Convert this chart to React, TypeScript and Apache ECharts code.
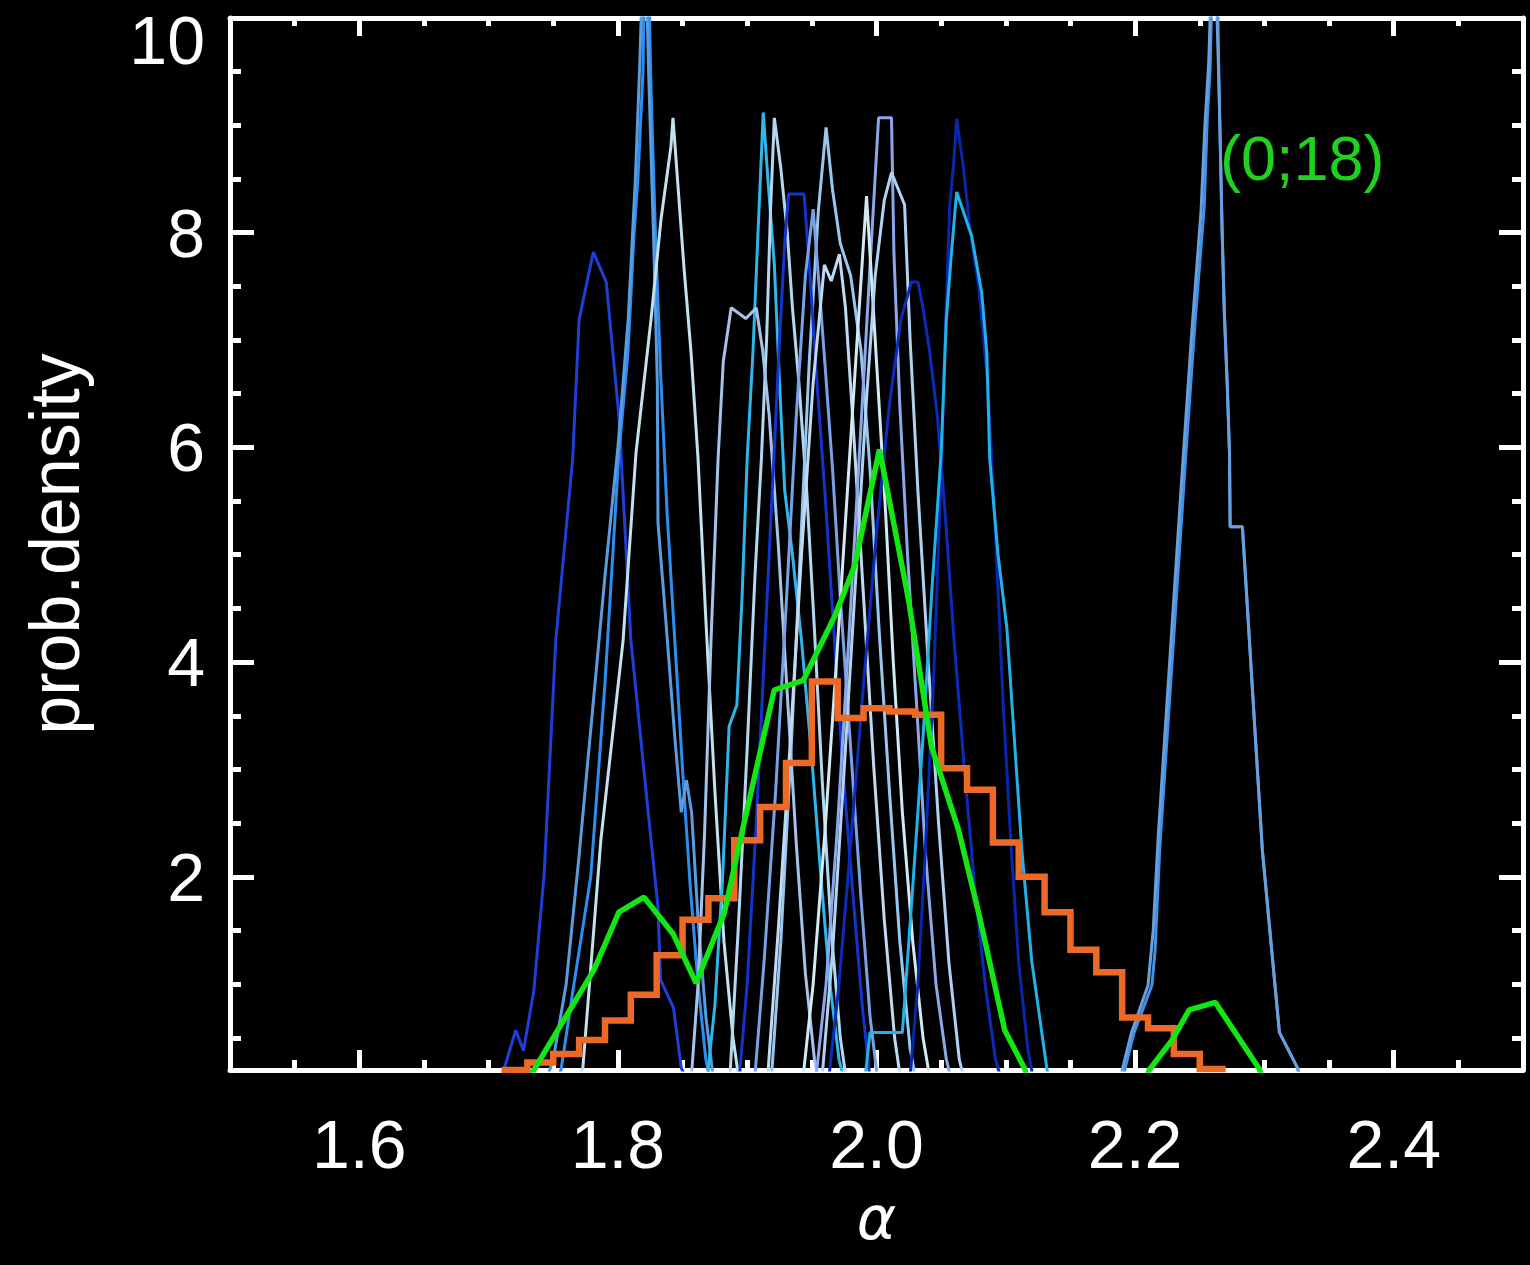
import { useEffect, useRef } from 'react';
import * as echarts from 'echarts';

// ---- axes ----
const xMin = 1.5;
const xMax = 2.5;
const yMin = 0.2;
const yMax = 10;
const xMajorTicks = [1.6, 1.8, 2.0, 2.2, 2.4];
const xMinorTicks = [1.55, 1.65, 1.7, 1.75, 1.85, 1.9, 1.95, 2.05, 2.1, 2.15, 2.25, 2.3, 2.35, 2.45];
const yMajorTicks = [2, 4, 6, 8, 10];
const yLabelTicks = [2, 4, 6, 8];
const yTopLabel = [10];
const yMinorTicks = [0.5, 1, 1.5, 2.5, 3, 3.5, 4.5, 5, 5.5, 6.5, 7, 7.5, 8.5, 9, 9.5];

// ---- individual probability densities (blue curves) ----
const curve00 = [[1.705,0],[1.712,0.21],[1.721,0.57],[1.727,0.38],[1.735,0.94],[1.743,2.03],[1.752,4.21],[1.765,5.89],[1.770,7.19],[1.781,7.82],[1.791,7.54],[1.801,6.26],[1.810,4.21],[1.823,2.65],[1.831,1.72],[1.833,1.04],[1.843,0.78],[1.849,0.22],[1.857,0]];
const curve01 = [[1.748,0],[1.756,0.2],[1.766,1.0],[1.779,2.0],[1.79,3.8],[1.8008,5.95],[1.8078,6.88],[1.8124,7.97],[1.8155,8.5],[1.8194,9.5],[1.821,10.8],[1.823,10.8],[1.8255,9.4],[1.829,8.0],[1.833,6.7],[1.838,5.4],[1.844,4.2],[1.85,3.0],[1.856,1.9],[1.862,1.0],[1.868,0.3],[1.873,0]];
const curve02 = [[1.742,0],[1.75,0.3],[1.76,1.0],[1.77,2.2],[1.78,3.5],[1.79,4.8],[1.8,6.0],[1.808,7.2],[1.8135,8.5],[1.817,9.6],[1.8195,10.6],[1.8215,10.6],[1.824,9.4],[1.8275,8.0],[1.8305,6.6],[1.831,5.3],[1.837,4.4],[1.844,3.3],[1.849,2.6],[1.853,2.9],[1.857,2.6],[1.862,1.6],[1.868,0.7],[1.874,0.1],[1.878,0]];
const curve03 = [[1.765,0],[1.7729,0.22],[1.7868,2.34],[1.804,4.2],[1.814,5.95],[1.8256,7.19],[1.8333,8.12],[1.841,8.8],[1.8426,9.07],[1.8465,8.43],[1.8512,7.66],[1.8566,6.88],[1.862,5.89],[1.868,4.4],[1.875,2.8],[1.882,1.4],[1.889,0.5],[1.895,0]];
const curve04 = [[1.868,0],[1.875,0.8],[1.881,2.0],[1.886,3.4],[1.892,3.6],[1.896,4.6],[1.9,5.9],[1.9045,6.9],[1.908,7.9],[1.9124,9.12],[1.916,8.5],[1.921,7.7],[1.925,6.6],[1.929,5.6],[1.935,5.0],[1.942,4.2],[1.95,3.1],[1.957,2.0],[1.964,1.0],[1.971,0.3],[1.977,0]];
const curve05 = [[1.886,0],[1.893,1.5],[1.9,3.2],[1.906,4.8],[1.911,5.9],[1.915,7.0],[1.918,8.2],[1.921,9.07],[1.926,8.6],[1.931,8.0],[1.935,7.3],[1.94,6.6],[1.946,5.6],[1.952,4.3],[1.958,2.9],[1.965,1.5],[1.972,0.5],[1.978,0]];
const curve06 = [[1.856,0],[1.862,1.0],[1.867,2.4],[1.872,4.2],[1.8775,5.9],[1.8815,6.8],[1.8876,7.3],[1.899,7.2],[1.907,7.3],[1.912,6.9],[1.917,6.3],[1.924,5.1],[1.931,3.7],[1.938,2.3],[1.945,1.1],[1.952,0.3],[1.957,0]];
const curve07 = [[1.918,0],[1.926,1.4],[1.934,3.2],[1.941,5.0],[1.948,6.8],[1.955,8.2],[1.961,8.98],[1.966,8.4],[1.972,7.9],[1.98,7.6],[1.988,6.9],[1.995,5.8],[2.002,4.3],[2.01,2.8],[2.018,1.4],[2.026,0.4],[2.032,0]];
const curve08 = [[1.893,0],[1.9,1.0],[1.907,2.5],[1.913,4.0],[1.919,5.5],[1.925,7.0],[1.929,7.9],[1.932,8.36],[1.944,8.36],[1.948,7.7],[1.954,6.6],[1.96,5.6],[1.967,4.3],[1.974,3.0],[1.982,1.8],[1.989,0.8],[1.996,0]];
const curve09 = [[1.905,0],[1.913,1.2],[1.922,2.8],[1.93,4.5],[1.938,6.3],[1.945,7.6],[1.951,8.22],[1.955,7.6],[1.96,6.8],[1.966,5.8],[1.972,4.6],[1.98,3.2],[1.988,1.8],[1.995,0.7],[2.002,0]];
const curve10 = [[1.915,0],[1.924,1.5],[1.933,3.2],[1.942,5.0],[1.951,6.6],[1.9597,7.7],[1.965,7.55],[1.9713,7.8],[1.976,7.3],[1.982,6.2],[1.99,4.6],[1.998,3.0],[2.006,1.6],[2.014,0.5],[2.02,0]];
const curve11 = [[1.952,0],[1.961,1.0],[1.97,2.5],[1.979,4.3],[1.988,6.2],[1.996,7.9],[2.0016,9.07],[2.0116,9.07],[2.0135,7.8],[2.018,6.4],[2.024,5.0],[2.031,3.6],[2.038,2.2],[2.046,1.0],[2.054,0.3],[2.06,0]];
const curve12 = [[1.942,0],[1.951,1.0],[1.96,2.4],[1.969,4.0],[1.977,5.5],[1.985,7.0],[1.9923,8.34],[1.996,7.6],[2.001,6.6],[2.007,5.4],[2.013,4.0],[2.02,2.6],[2.028,1.4],[2.036,0.5],[2.043,0]];
const curve13 = [[1.957,0],[1.966,1.3],[1.975,3.0],[1.984,4.8],[1.992,6.4],[1.999,7.6],[2.006,8.3],[2.0116,8.56],[2.0217,8.26],[2.026,7.0],[2.032,5.6],[2.04,4.0],[2.048,2.5],[2.056,1.2],[2.064,0.3],[2.07,0]];
const curve14 = [[1.962,0],[1.971,1.0],[1.98,2.3],[1.99,3.8],[2.0,5.2],[2.01,6.4],[2.019,7.2],[2.027,7.54],[2.032,7.54],[2.036,7.3],[2.041,6.9],[2.047,6.3],[2.053,5.4],[2.06,4.2],[2.068,3.0],[2.076,1.9],[2.084,1.0],[2.092,0.3],[2.099,0]];
const curve15 = [[2.025,0],[2.032,1.0],[2.038,2.3],[2.044,3.8],[2.0504,5.89],[2.0527,6.88],[2.0566,8.25],[2.0597,8.65],[2.062,9.06],[2.0674,8.59],[2.072,8.06],[2.079,7.5],[2.086,6.6],[2.092,5.2],[2.098,3.6],[2.104,2.3],[2.11,1.2],[2.117,0.4],[2.123,0]];
const curve16 = [[1.99,0],[1.995,0.55],[2.02,0.55],[2.028,1.9],[2.036,3.3],[2.043,4.7],[2.05,5.95],[2.054,7.19],[2.058,7.82],[2.062,8.38],[2.0736,7.97],[2.0814,7.44],[2.0853,6.88],[2.0876,5.89],[2.094,5.0],[2.1008,4.32],[2.1124,2.25],[2.12,1.22],[2.1318,0.21],[2.136,0]];
const curve17 = [[2.188,0],[2.192,0.2],[2.199,0.54],[2.213,0.99],[2.2155,1.32],[2.219,2.25],[2.239,5.89],[2.2465,7.19],[2.2535,8.25],[2.2558,9.06],[2.258,9.52],[2.2605,10.8],[2.263,10.8],[2.265,9.3],[2.266,8.75],[2.2674,7.97],[2.269,7.26],[2.2713,6.57],[2.273,5.95],[2.2735,5.26],[2.283,5.26],[2.2984,2.25],[2.3116,0.55],[2.3256,0.22],[2.33,0]];
const curve18 = [[2.186,0],[2.19,0.2],[2.197,0.54],[2.21,0.99],[2.214,1.5],[2.218,2.4],[2.236,5.7],[2.244,7.1],[2.251,8.2],[2.254,9.0],[2.257,9.6],[2.2595,10.6],[2.262,10.6],[2.265,9.3],[2.266,8.75],[2.2674,7.97],[2.269,7.26],[2.2713,6.57],[2.273,5.95],[2.2735,5.26],[2.283,5.26],[2.2984,2.25],[2.3116,0.55],[2.3256,0.22],[2.33,0]];

const blueCurves = [curve00, curve01, curve02, curve03, curve04, curve05, curve06, curve07, curve08, curve09, curve10, curve11, curve12, curve13, curve14, curve15, curve16, curve17, curve18];
const blueColors = ['#1f3fd8', '#2d8ef0', '#5b9be0', '#c4e2ee', '#30b6ea', '#b4d8f0', '#a6c4ea', '#98c8f0', '#1434cc', '#7aa0e6', '#c0daf2', '#8ca8ea', '#d2eaf4', '#b2d2f2', '#0c2bb8', '#0a26ac', '#22b2e8', '#3d93e8', '#6a9fdc'];

// ---- combined density (green) ----
const combinedCurve = [[1.725,0],[1.7814,1.13],[1.8008,1.67],[1.8202,1.81],[1.8426,1.47],[1.8605,1.01],[1.8822,1.66],[1.8977,2.51],[1.9209,3.74],[1.9434,3.83],[1.9674,4.42],[1.9829,4.89],[2.0023,5.98],[2.0248,4.58],[2.0426,3.21],[2.0636,2.43],[2.0791,1.66],[2.0992,0.57],[2.1147,0.21],[2.12,0],[2.205,0],[2.2109,0.2],[2.2287,0.48],[2.2419,0.76],[2.262,0.83],[2.2961,0.21],[2.302,0]];

// ---- histogram (orange) ----
const histStart = 1.71;
const histBinWidth = 0.02;
const histValues = [0.2, 0.27, 0.35, 0.48, 0.66, 0.9, 1.27, 1.6, 1.8, 2.34, 2.65, 3.06, 3.82, 3.48, 3.57, 3.54, 3.51, 3.01, 2.81, 2.32, 2.0, 1.67, 1.32, 1.11, 0.69, 0.59, 0.35, 0.21];

const annotationText = '(0;18)';
const xTitle = 'α';
const yTitle = 'prob.density';

const FONT = '"Liberation Sans", Arial, sans-serif';

function xAxisDef(position: string, ticks: number[], len: number, line: boolean, labels: boolean) {
  return {
    type: 'value', min: xMin, max: xMax, position,
    axisLine: { show: line, onZero: false, lineStyle: { color: '#ffffff', width: 5 } },
    axisTick: { show: true, inside: true, length: len, customValues: ticks, lineStyle: { color: '#ffffff', width: 5 } },
    axisLabel: labels ? {
      show: true, customValues: ticks, formatter: (v: number) => v.toFixed(1),
      color: '#ffffff', fontSize: 68, fontFamily: FONT, margin: 40,
    } : { show: false },
    splitLine: { show: false },
    ...(labels ? {
      name: xTitle, nameLocation: 'middle', nameGap: 118,
      nameTextStyle: { color: '#ffffff', fontSize: 60, fontStyle: 'italic', fontFamily: '"DejaVu Sans", sans-serif' },
    } : {}),
  };
}

function yAxisDef(position: string, ticks: number[], len: number, line: boolean, labelVals: number[] | null, top = false) {
  return {
    type: 'value', min: yMin, max: yMax, position,
    axisLine: { show: line, onZero: false, lineStyle: { color: '#ffffff', width: 5 } },
    axisTick: { show: ticks.length > 0, inside: true, length: len, customValues: ticks.length ? ticks : undefined, lineStyle: { color: '#ffffff', width: 5 } },
    axisLabel: labelVals ? {
      show: true, customValues: labelVals, formatter: (v: number) => String(Math.round(v)),
      color: '#ffffff', fontSize: 68, fontFamily: FONT, margin: 25,
      verticalAlign: top ? 'top' : 'middle', lineHeight: top ? 44 : 68,
    } : { show: false },
    splitLine: { show: false },
  };
}

export default function App() {
  const ref = useRef<HTMLDivElement>(null);
  useEffect(() => {
    document.body.style.margin = '0';
    document.body.style.background = '#000';
    if (!ref.current) return;
    const chart = echarts.init(ref.current, null, { renderer: 'svg' });

    const histData: number[][] = [];
    histValues.forEach((v, i) => {
      const l = histStart + i * histBinWidth;
      histData.push([l, v], [l + histBinWidth, v]);
    });

    const blueSeries = blueCurves.map((c, i) => ({
      type: 'line', data: c, showSymbol: false, symbol: 'none', silent: true, clip: true,
      xAxisIndex: 0, yAxisIndex: 0, z: 2,
      lineStyle: { color: blueColors[i], width: 3 },
    }));

    const leftLabelAxis = yAxisDef('left', yMajorTicks, 24, true, yLabelTicks);
    (leftLabelAxis as any).name = yTitle;
    (leftLabelAxis as any).nameLocation = 'middle';
    (leftLabelAxis as any).nameGap = 140;
    (leftLabelAxis as any).nameTextStyle = { color: '#ffffff', fontSize: 70, fontFamily: FONT };

    chart.setOption({
      animation: false,
      backgroundColor: '#000000',
      grid: { left: 230, right: 7, top: 18, bottom: 195, containLabel: false, outerBoundsMode: 'none' },
      xAxis: [
        xAxisDef('bottom', xMajorTicks, 20, true, true),
        xAxisDef('bottom', xMinorTicks, 10, false, false),
        xAxisDef('top', xMajorTicks, 18, true, false),
        xAxisDef('top', xMinorTicks, 8, false, false),
      ],
      yAxis: [
        leftLabelAxis,
        yAxisDef('left', yMinorTicks, 11, false, null),
        yAxisDef('right', yMajorTicks, 24, true, null),
        yAxisDef('right', yMinorTicks, 11, false, null),
        yAxisDef('left', [], 0, false, yTopLabel, true),
      ],
      series: [
        ...blueSeries,
        {
          type: 'line', data: histData, showSymbol: false, symbol: 'none', silent: true, clip: true,
          xAxisIndex: 0, yAxisIndex: 0, z: 3,
          lineStyle: { color: '#ec6a26', width: 6.5, join: 'miter' },
        },
        {
          type: 'line', data: combinedCurve, showSymbol: false, symbol: 'none', silent: true, clip: true,
          xAxisIndex: 0, yAxisIndex: 0, z: 4,
          lineStyle: { color: '#14e614', width: 5.5 },
        },
      ],
      graphic: [
        {
          type: 'text', left: 1220, top: 126, z: 10,
          style: { text: annotationText, fill: '#1ed21e', fontSize: 63, fontFamily: FONT },
        },
      ],
    });
    return () => chart.dispose();
  }, []);
  return <div ref={ref} style={{ width: 1530, height: 1265, position: 'absolute', left: 0, top: 0, background: '#000' }} />;
}
